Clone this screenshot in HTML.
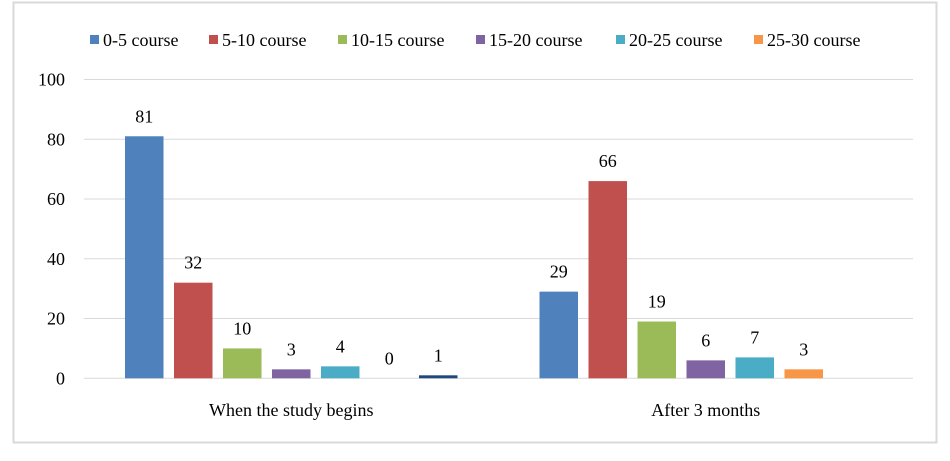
<!DOCTYPE html>
<html><head><meta charset="utf-8"><style>
body{margin:0;background:#fff;}
svg{display:block;font-family:"Liberation Serif",serif;}
</style></head><body>
<svg width="950" height="461">
<rect x="13.5" y="2.5" width="923" height="440" fill="#fff" stroke="#d9d9d9" stroke-width="2"/>
<g id="grid"></g>
<g id="yticks"></g>
<g id="bars"></g>
<g id="xlabels"></g>
<g id="legend"></g>
</svg>
<script>
const categories=["When the study begins","After 3 months"];
const seriesNames=["0-5 course","5-10 course","10-15 course","15-20 course","20-25 course","25-30 course",""];
const s0=[81,29];
const s1=[32,66];
const s2=[10,19];
const s3=[3,6];
const s4=[4,7];
const s5=[0,3];
const s6=[1,null];
const yTicks=[0,20,40,60,80,100];
const series=[s0,s1,s2,s3,s4,s5,s6];
const colors=["#4f81bd","#c0504d","#9bbb59","#8064a2","#4bacc6","#f79646","#1f497d"];
const NS="http://www.w3.org/2000/svg";
const L=84,R=913,T=79.5,B=378.3;
const FS=18;
const y=v=>B-(v/100)*(B-T);
function mk(tag,at,parent,txt){const e=document.createElementNS(NS,tag);for(const k in at)e.setAttribute(k,at[k]);if(txt!==undefined)e.textContent=txt;document.getElementById(parent).appendChild(e);return e;}
yTicks.forEach(t=>{
 const g=mk('line',{x1:L,x2:R,y1:y(t),y2:y(t),stroke:'#d9d9d9','stroke-width':1},'grid');
 
 
 const tx=mk('text',{x:65,y:y(t)+6,'text-anchor':'end','font-size':FS,fill:'#000'},'yticks',t);
 
 
});
const cw=(R-L)/categories.length, pitch=49, bw=38.5;
categories.forEach((c,ci)=>{
 const cx=L+cw*(ci+0.5);
 series.forEach((s,si)=>{
  const v=s[ci]; if(v===null||v===undefined)return;
  const bx=cx+(si-3)*pitch-bw/2;
  const r=mk('rect',{x:bx,y:y(v),width:bw,height:B-y(v),fill:colors[si]},'bars');
  
  
  const lt=mk('text',{x:bx+bw/2,y:y(v)-14,'text-anchor':'middle','font-size':FS,fill:'#000'},'bars',v);
  
  
 });
 const xl=mk('text',{x:cx,y:416,'text-anchor':'middle','font-size':FS,fill:'#000'},'xlabels',c);
 
 
});
const legX=[90,209,338,476,616,754];
legX.forEach((lx,i)=>{
 const m=mk('rect',{x:lx,y:35,width:9,height:9,fill:colors[i]},'legend');
 
 
 const t=mk('text',{x:lx+13,y:46,'font-size':FS,fill:'#000'},'legend',seriesNames[i]);
 
 
});
</script>
</body></html>
